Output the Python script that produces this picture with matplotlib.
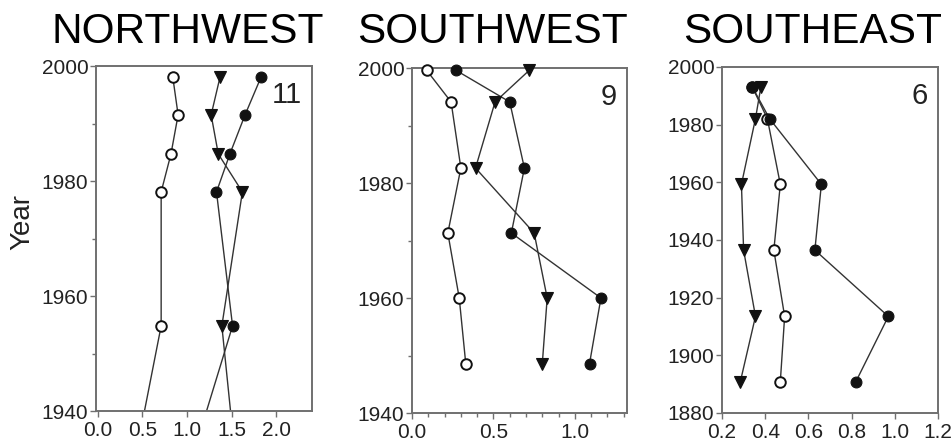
import matplotlib
matplotlib.use("Agg")
import matplotlib.pyplot as plt
from matplotlib.ticker import FormatStrFormatter, MultipleLocator, NullLocator

plt.rcParams["font.family"] = ["Liberation Sans", "DejaVu Sans"]

W, H = 951, 444

# NORTHWEST (last point lies below the axis, only its segment shows)
nw_years = [1998.1, 1991.5, 1984.7, 1978.1, 1954.8, 1935.0]
nw_open = [0.84, 0.90, 0.82, 0.71, 0.71, 0.46]
nw_tri = [1.37, 1.27, 1.35, 1.62, 1.39, 1.52]
nw_fill = [1.83, 1.65, 1.48, 1.33, 1.51, 1.12]

# SOUTHWEST
sw_years = [1999.6, 1994.1, 1982.6, 1971.3, 1960.0, 1948.6]
sw_open = [0.09, 0.24, 0.30, 0.22, 0.29, 0.33]
sw_tri = [0.72, 0.51, 0.39, 0.75, 0.83, 0.80]
sw_fill = [0.27, 0.60, 0.69, 0.61, 1.16, 1.09]

# SOUTHEAST
se_years = [1993.1, 1982.1, 1959.3, 1936.5, 1913.5, 1890.9]
se_open = [0.34, 0.41, 0.47, 0.44, 0.49, 0.47]
se_tri = [0.38, 0.355, 0.29, 0.30, 0.355, 0.285]
se_fill = [0.34, 0.42, 0.66, 0.63, 0.97, 0.82]

titles = ["NORTHWEST", "SOUTHWEST", "SOUTHEAST"]
title_x = [187.5, 492.5, 813]
counts = ["11", "9", "6"]

# axes boxes in pixels: left, top, right, bottom
boxes = [(96, 66, 312, 411), (412, 68, 627, 413), (722, 67, 938, 413)]
xlims = [(-0.02, 2.4), (0.0, 1.32), (0.2, 1.2)]
ylims = [(1940, 2000), (1940, 2000), (1880, 2000)]
x_major = [0.5, 0.5, 0.2]
x_minor = [None, 0.1, None]
y_minor = [10, 10, None]

data = [
    (nw_years, nw_open, nw_tri, nw_fill),
    (sw_years, sw_open, sw_tri, sw_fill),
    (se_years, se_open, se_tri, se_fill),
]

GRAY = "#707070"
TXT = "#222222"

fig = plt.figure(figsize=(W / 100, H / 100), dpi=100)

for i in range(3):
    l, t, r, b = boxes[i]
    ax = fig.add_axes([l / W, 1 - b / H, (r - l) / W, (b - t) / H])
    years, op, tri, fil = data[i]
    y0, y1 = ylims[i]

    for vals in (op, tri, fil):
        ax.plot(vals, years, color="#333333", lw=1.0, zorder=2)

    def marks(vals, **kw):
        pts = [(v, y) for v, y in zip(vals, years) if y0 <= y <= y1]
        ax.plot([p[0] for p in pts], [p[1] for p in pts], ls="none",
                clip_on=False, zorder=3, **kw)

    marks(op, marker="o", ms=7.6, mfc="white", mec="#111111", mew=1.4)
    marks(tri, marker="v", ms=8.5, mfc="#111111", mec="#111111", mew=0.8)
    marks(fil, marker="o", ms=7.8, mfc="#111111", mec="#111111", mew=0.8)

    ax.set_xlim(*xlims[i])
    ax.set_ylim(y0, y1)
    ax.xaxis.set_major_locator(MultipleLocator(x_major[i]))
    ax.xaxis.set_major_formatter(FormatStrFormatter("%.1f"))
    ax.yaxis.set_major_locator(MultipleLocator(20))
    if x_minor[i]:
        ax.xaxis.set_minor_locator(MultipleLocator(x_minor[i]))
    else:
        ax.xaxis.set_minor_locator(NullLocator())
    if y_minor[i]:
        ax.yaxis.set_minor_locator(MultipleLocator(y_minor[i]))
    else:
        ax.yaxis.set_minor_locator(NullLocator())

    for sp in ax.spines.values():
        sp.set_color(GRAY)
        sp.set_linewidth(1.4)
    ax.tick_params(which="major", direction="out", length=4, width=1,
                   color=GRAY, labelsize=15, labelcolor=TXT)
    ax.tick_params(which="minor", direction="out", length=3, width=1, color=GRAY)
    ax.tick_params(axis="y", pad=1.5)
    ax.tick_params(axis="x", pad=3)

    ax.text(1 - 10 / (r - l), 1 - 15 / (b - t), counts[i], transform=ax.transAxes,
            ha="right", va="top", fontsize=21, color="#222222")

    fig.text(title_x[i] / W, 1 - 43 / H, titles[i], ha="center", va="baseline",
             fontsize=30.5, color="black")

fig.text(22 / W, 1 - 222 / H, "Year", rotation=90, ha="center", va="center",
         fontsize=20, color=TXT)

fig.savefig("out.png", dpi=100)
